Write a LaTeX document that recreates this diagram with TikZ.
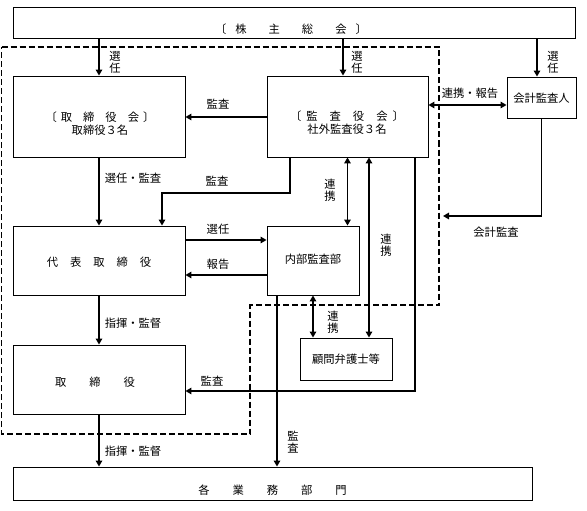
\documentclass[tikz,border=0pt]{standalone}
\usepackage{fontspec}
\setmainfont{Noto Sans CJK JP}
\usetikzlibrary{arrows.meta}
\begin{document}
\begin{tikzpicture}[x=1pt,y=-1pt,
  font=\fontsize{11.3}{13}\selectfont,
  box/.style={draw,line width=0.9pt,inner sep=0pt,rectangle},
  txt/.style={inner sep=0pt,align=center},
  vtxt/.style={inner sep=0pt,align=center,font=\fontsize{11.3}{12}\selectfont},
  arr/.style={line width=1.7pt,-{Triangle[length=6pt,width=6.5pt]}},
  darr/.style={line width=1.7pt,{Triangle[length=6pt,width=6.5pt]}-{Triangle[length=6pt,width=6.5pt]}},
  bound/.style={line width=1.1pt,dash pattern=on 6pt off 3pt}]
\useasboundingbox (0,0) rectangle (587,511);
% boxes
\node[box,minimum width=562pt,minimum height=31pt] (gm) at (294,22.5) {};
\node[box,minimum width=172pt,minimum height=81pt] (board) at (99,116.5) {};
\node[box,minimum width=161pt,minimum height=81pt] (audit) at (347.5,116.5) {};
\node[box,minimum width=69pt,minimum height=41pt] (kaikei) at (541.5,97.5) {};
\node[box,minimum width=172pt,minimum height=69pt] (rep) at (99,260.5) {};
\node[box,minimum width=92pt,minimum height=69pt] (naibu) at (313,260.5) {};
\node[box,minimum width=92pt,minimum height=42pt] (komon) at (346,359) {};
\node[box,minimum width=172pt,minimum height=69pt] (tori) at (99,379.5) {};
\node[box,minimum width=519pt,minimum height=33pt] (bumon) at (272.5,483.5) {};
% box texts
\node[txt] (gmT) at (291,29) {〔\hspace{9pt}株\hspace{22pt}主\hspace{22pt}総\hspace{22pt}会\hspace{9pt}〕};
\node[txt] (boardT) at (100,124) {〔\hspace{4pt}取\hspace{11pt}締\hspace{11pt}役\hspace{11pt}会\hspace{4pt}〕\\取締役３名};
\node[txt] (auditT) at (347,122.5) {〔\hspace{5pt}監\hspace{12pt}査\hspace{12pt}役\hspace{12pt}会\hspace{5pt}〕\\社外監査役３名};
\node[txt] (kaikeiT) at (541.5,98) {会計監査人};
\node[txt] (repT) at (99,262) {代\hspace{12pt}表\hspace{12pt}取\hspace{12pt}締\hspace{12pt}役};
\node[txt] (naibuT) at (313,259) {内部監査部};
\node[txt] (komonT) at (346,359) {顧問弁護士等};
\node[txt] (toriT) at (95,382) {取\hspace{23pt}締\hspace{23pt}役};
\node[txt] (bumonT) at (272.5,490) {各\hspace{23pt}業\hspace{23pt}務\hspace{23pt}部\hspace{23pt}門};
% boundary
\draw[bound] (1.5,47) -- (439,47) -- (439,305) -- (250,305) -- (250,434) -- (1.5,434) -- cycle;
% connectors
\draw[arr] (gm.south -| board.north) -- (board.north);
\draw[arr] ([xshift=-4.5pt]audit.north |- gm.south) -- ([xshift=-4.5pt]audit.north);
\draw[arr] ([xshift=-4.5pt]kaikei.north |- gm.south) -- ([xshift=-4.5pt]kaikei.north);
\draw[arr] ([yshift=-0.5pt]audit.west) -- ([yshift=-0.5pt]board.east);
\draw[darr] ([yshift=11.5pt]audit.east) -- ([yshift=-7.5pt]kaikei.west);
\coordinate (kaEnd) at (443,216);
\draw[arr] (kaikei.south) |- (kaEnd);
\draw[arr] ([xshift=-57.5pt]audit.south) -- ++(0,35.5) -| ([xshift=63pt]rep.north);
\draw[arr] (board.south) -- (rep.north);
\draw[arr] ([yshift=20.5pt]rep.east) -- ([yshift=20.5pt]naibu.west);
\draw[arr] ([yshift=-14.5pt]naibu.west) -- ([yshift=-14.5pt]rep.east);
\draw[darr] (audit.south) -- (audit.south |- naibu.north);
\draw[darr] ([xshift=21.5pt]audit.south) coordinate (a2) -- (a2 |- komon.north);
\draw[darr] (naibu.south) -- (naibu.south |- komon.north);
\draw[arr] ([xshift=67.5pt]audit.south) |- ([yshift=-11.5pt]tori.east);
\draw[arr] (rep.south) -- (tori.north);
\draw[arr] (tori.south) -- (tori.south |- bumon.north);
\draw[arr] ([xshift=-36pt]naibu.south) coordinate (n2) -- (n2 |- bumon.north);
% labels
\node[vtxt] (l1) at (115,62) {選\\任};
\node[vtxt] (l2) at (357,62) {選\\任};
\node[vtxt] (l3) at (553,62) {選\\任};
\node[txt] (l4) at (218,104) {監査};
\node[txt] (l5) at (470,93) {連携・報告};
\node[txt] (l6) at (496,232) {会計監査};
\node[txt] (l7) at (217,181) {監査};
\node[txt] (l8) at (133,178) {選任・監査};
\node[vtxt] (l9) at (330,190) {連\\携};
\node[vtxt] (l10) at (386,245) {連\\携};
\node[vtxt] (l11) at (333,322) {連\\携};
\node[txt] (l12) at (218,229) {選任};
\node[txt] (l13) at (218,264) {報告};
\node[txt] (l14) at (133,323) {指揮・監督};
\node[txt] (l15) at (133,451) {指揮・監督};
\node[txt] (l16) at (212,381) {監査};
\node[vtxt] (l17) at (293,442) {監\\査};
\end{tikzpicture}
\end{document}
